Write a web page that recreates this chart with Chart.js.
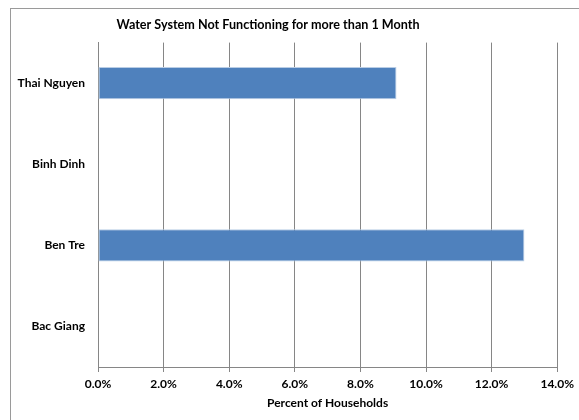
<!DOCTYPE html>
<html>
<head>
<meta charset="utf-8">
<script src="https://cdn.jsdelivr.net/npm/chart.js@4"></script>
<style>
  html, body { margin: 0; padding: 0; background: #fff; }
  canvas { display: block; }
</style>
</head>
<body>
<canvas id="c" width="579" height="420"></canvas>
<script>
const categories = ["Thai Nguyen", "Binh Dinh", "Ben Tre", "Bac Giang"];
const percentHouseholds = [9.1, 0, 13.0, 0];
const xTicks = [0, 2, 4, 6, 8, 10, 12, 14];
const chartTitle = "Water System Not Functioning for more than 1 Month";
const xAxisTitle = "Percent of Households";

const FONT = 'Lato, "Liberation Sans", sans-serif';

const frame = {
  id: 'frame',
  beforeDraw(chart) {
    const ctx = chart.ctx;
    ctx.save();
    ctx.fillStyle = '#fff';
    ctx.fillRect(0, 0, chart.width, chart.height);
    ctx.strokeStyle = '#9a9a9a';
    ctx.lineWidth = 1;
    ctx.strokeRect(10.5, 8.5, 600, 450);
    ctx.restore();
  },
  afterDraw(chart) {
    const ctx = chart.ctx;
    ctx.save();
    ctx.fillStyle = '#000';
    ctx.font = 'bold 12.6px ' + FONT;
    ctx.textAlign = 'center';
    ctx.textBaseline = 'middle';
    ctx.fillText(chartTitle, 268, 25);
    ctx.restore();
  }
};

new Chart(document.getElementById('c'), {
  type: 'bar',
  data: {
    labels: categories,
    datasets: [{
      data: percentHouseholds,
      backgroundColor: '#4F81BD',
      borderColor: '#B9CDE5',
      borderWidth: 1,
      borderSkipped: false,
      categoryPercentage: 1,
      barPercentage: 0.4
    }]
  },
  options: {
    indexAxis: 'y',
    responsive: false,
    devicePixelRatio: 1,
    animation: false,
    layout: { padding: { left: 0, right: 21, top: 0, bottom: 0 } },
    plugins: {
      legend: { display: false },
      tooltip: { enabled: false },
      title: {
        display: true,
        text: chartTitle,
        color: 'rgba(0,0,0,0)',
        font: { family: FONT, size: 13, weight: 'bold', lineHeight: 1.2 },
        padding: { top: 17, bottom: 10 }
      }
    },
    scales: {
      x: {
        min: 0,
        max: 14,
        afterBuildTicks(axis) { axis.ticks = xTicks.map(v => ({ value: v })); },
        afterFit(axis) { axis.height = 53; },
        grid: { color: '#868686', lineWidth: 1, drawTicks: true, tickLength: 5 },
        border: { display: true, color: '#868686', width: 1 },
        ticks: {
          color: '#000',
          padding: 5,
          font: { family: FONT, size: 12, weight: 'bold' },
          callback: v => v.toFixed(1) + '%',
          maxRotation: 0
        },
        title: {
          display: true,
          text: xAxisTitle,
          color: '#000',
          font: { family: FONT, size: 12, weight: 'bold', lineHeight: 1.2 },
          padding: { top: 0, bottom: 10 }
        }
      },
      y: {
        afterFit(axis) { axis.width = 98; },
        grid: { display: false, drawTicks: false },
        border: { display: true, color: '#868686', width: 1 },
        ticks: {
          color: '#000',
          padding: 13,
          font: { family: FONT, size: 12, weight: 'bold' }
        }
      }
    }
  },
  plugins: [frame]
});
</script>
</body>
</html>
